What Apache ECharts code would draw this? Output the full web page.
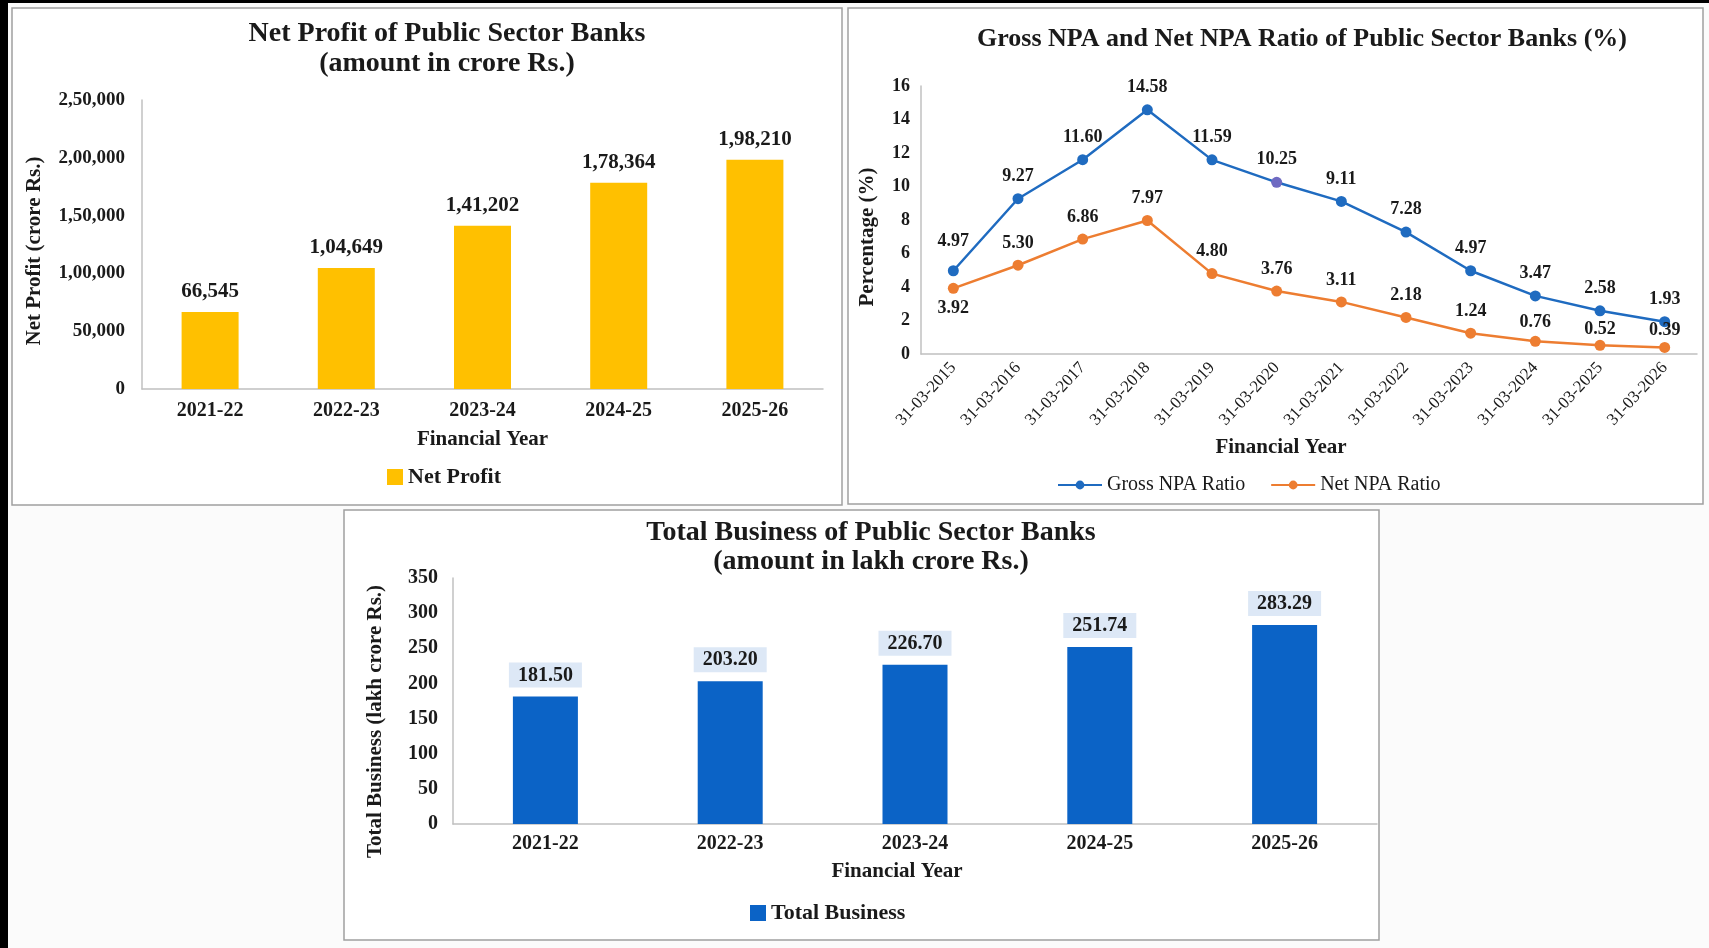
<!DOCTYPE html>
<html>
<head>
<meta charset="utf-8">
<script src="https://cdn.jsdelivr.net/npm/echarts@6/dist/echarts.min.js"></script>
<style>
html,body{margin:0;padding:0;background:#fbfbfb;}
#c{width:1709px;height:948px;}
</style>
</head>
<body>
<div id="c"></div>
<script>
// ---- data ----
const profitYears = ['2021-22','2022-23','2023-24','2024-25','2025-26'];
const netProfit = [66545, 104649, 141202, 178364, 198210];

const npaDates = ['31-03-2015','31-03-2016','31-03-2017','31-03-2018','31-03-2019','31-03-2020','31-03-2021','31-03-2022','31-03-2023','31-03-2024','31-03-2025','31-03-2026'];
const grossNPA = [4.97, 9.27, 11.60, 14.58, 11.59, 10.25, 9.11, 7.28, 4.97, 3.47, 2.58, 1.93];
const netNPA = [3.92, 5.30, 6.86, 7.97, 4.80, 3.76, 3.11, 2.18, 1.24, 0.76, 0.52, 0.39];

const businessYears = ['2021-22','2022-23','2023-24','2024-25','2025-26'];
const totalBusiness = [181.50, 203.20, 226.70, 251.74, 283.29];

// ---- helpers ----
function inr(n){
  const s = String(Math.round(n));
  if (s.length <= 3) return s;
  const last3 = s.slice(-3);
  let rest = s.slice(0, -3);
  const parts = [];
  while (rest.length > 2){ parts.unshift(rest.slice(-2)); rest = rest.slice(0,-2); }
  if (rest.length) parts.unshift(rest);
  return parts.join(',') + ',' + last3;
}
const F = 'Liberation Serif';
const TXT = '#1a1a1a';
const AX = {lineStyle:{color:'#c0c0c0', width:1.5}};
// label distances for the NPA lines (layout only)
const grossDist = [15, 8, 8, 8, 8, 8, 8, 8, 8, 8, 8, 8];
const netDist = [5.5, 7.5, 7.5, 7.5, 7.5, 7.5, 7.5, 7.5, 7.5, 4.5, 1.5, 2.5];

const chart = echarts.init(document.getElementById('c'));
const option = {
  backgroundColor:'#fbfbfb',
  animation:false,
  textStyle:{fontFamily:F},
  graphic:[
    {type:'rect', shape:{x:0,y:0,width:8,height:948}, style:{fill:'#000'}, z:-1},
    {type:'rect', shape:{x:0,y:0,width:1709,height:3}, style:{fill:'#000'}, z:-1},
    {type:'rect', shape:{x:12,y:8,width:830,height:497}, style:{fill:'#fff', stroke:'#a0a0a0', lineWidth:1.5}, z:-1},
    {type:'rect', shape:{x:848,y:8,width:855,height:496}, style:{fill:'#fff', stroke:'#a0a0a0', lineWidth:1.5}, z:-1},
    {type:'rect', shape:{x:344,y:510,width:1035,height:430}, style:{fill:'#fff', stroke:'#a0a0a0', lineWidth:1.5}, z:-1}
  ],
  title:[
    {text:'Net Profit of Public Sector Banks\n(amount in crore Rs.)', left:442, top:14, textAlign:'center',
     textStyle:{fontFamily:F, fontSize:28, fontWeight:'bold', color:TXT, lineHeight:30}},
    {text:'Gross NPA and Net NPA Ratio of Public Sector Banks (%)', left:1297, top:21, textAlign:'center',
     textStyle:{fontFamily:F, fontSize:26, fontWeight:'bold', color:TXT}},
    {text:'Total Business of Public Sector Banks\n(amount in lakh crore Rs.)', left:866, top:513, textAlign:'center',
     textStyle:{fontFamily:F, fontSize:28, fontWeight:'bold', color:TXT, lineHeight:29}}
  ],
  legend:[
    {data:['Net Profit'], left:382, top:461, itemWidth:16, itemHeight:16, icon:'rect',
     textStyle:{fontFamily:F, fontSize:22, fontWeight:'bold', color:TXT}},
    {data:['Gross NPA Ratio','Net NPA Ratio'], left:1052, top:470, itemWidth:44, itemHeight:11, itemGap:25,
     textStyle:{fontFamily:F, fontSize:20, color:TXT}},
    {data:['Total Business'], left:745, top:897, itemWidth:16, itemHeight:16, icon:'rect',
     textStyle:{fontFamily:F, fontSize:22, fontWeight:'bold', color:TXT}}
  ],
  grid:[
    {left:142, top:100, width:681, height:289},
    {left:921, top:86, width:776, height:268},
    {left:453, top:578, width:924, height:246}
  ],
  xAxis:[
    {gridIndex:0, type:'category', data:profitYears, axisLine:AX, axisTick:{show:false},
     axisLabel:{fontFamily:F, fontSize:20, fontWeight:'bold', color:TXT, margin:12},
     name:'Financial Year', nameLocation:'middle', nameGap:40,
     nameTextStyle:{fontFamily:F, fontSize:21, fontWeight:'bold', color:TXT}},
    {gridIndex:1, type:'category', data:npaDates, boundaryGap:true, axisLine:AX, axisTick:{show:false},
     axisLabel:{fontFamily:F, fontSize:17, color:TXT, rotate:47, margin:11, interval:0},
     name:'Financial Year', nameLocation:'middle', nameGap:83,
     nameTextStyle:{fontFamily:F, fontSize:21, fontWeight:'bold', color:TXT, padding:[0,56,0,0]}},
    {gridIndex:2, type:'category', data:businessYears, axisLine:AX, axisTick:{show:false},
     axisLabel:{fontFamily:F, fontSize:20, fontWeight:'bold', color:TXT, margin:10},
     name:'Financial Year', nameLocation:'middle', nameGap:37,
     nameTextStyle:{fontFamily:F, fontSize:21, fontWeight:'bold', color:TXT, padding:[0,36,0,0]}}
  ],
  yAxis:[
    {gridIndex:0, type:'value', min:0, max:250000, interval:50000, splitLine:{show:false},
     axisLine:{show:true, lineStyle:{color:'#c0c0c0', width:1.5}}, axisTick:{show:false},
     axisLabel:{fontFamily:F, fontSize:19, fontWeight:'bold', color:TXT, margin:17, formatter:v=>inr(v)},
     name:'Net Profit (crore Rs.)', nameLocation:'middle', nameGap:97,
     nameTextStyle:{fontFamily:F, fontSize:21, fontWeight:'bold', color:TXT, padding:[0,13,0,0]}},
    {gridIndex:1, type:'value', min:0, max:16, interval:2, splitLine:{show:false},
     axisLine:{show:true, lineStyle:{color:'#c0c0c0', width:1.5}}, axisTick:{show:false},
     axisLabel:{fontFamily:F, fontSize:18, fontWeight:'bold', color:TXT, margin:11},
     name:'Percentage (%)', nameLocation:'middle', nameGap:43,
     nameTextStyle:{fontFamily:F, fontSize:21, fontWeight:'bold', color:TXT, padding:[0,34,0,0]}},
    {gridIndex:2, type:'value', min:0, max:350, interval:50, splitLine:{show:false},
     axisLine:{show:true, lineStyle:{color:'#c0c0c0', width:1.5}}, axisTick:{show:false},
     axisLabel:{fontFamily:F, fontSize:20, fontWeight:'bold', color:TXT, margin:15},
     name:'Total Business (lakh crore Rs.)', nameLocation:'middle', nameGap:67,
     nameTextStyle:{fontFamily:F, fontSize:21, fontWeight:'bold', color:TXT, padding:[0,41,0,0]}}
  ],
  series:[
    {name:'Net Profit', type:'bar', xAxisIndex:0, yAxisIndex:0, data:netProfit, barWidth:57,
     itemStyle:{color:'#FFC000'},
     label:{show:true, position:'top', distance:10, fontFamily:F, fontSize:21, fontWeight:'bold', color:TXT,
            formatter:p=>inr(p.value)}},
    {name:'Gross NPA Ratio', type:'line', xAxisIndex:1, yAxisIndex:1,
     data:grossNPA.map((v,i)=> {
       const d = {value:v, label:{distance:grossDist[i]}};
       if (i===5) d.itemStyle = {color:'#6f6ac2'};
       return d;
     }),
     symbol:'circle', symbolSize:11, lineStyle:{color:'#1f6bc0', width:2.5},
     itemStyle:{color:'#1f6bc0'},
     label:{show:true, position:'top', fontFamily:F, fontSize:18, fontWeight:'bold', color:TXT,
            formatter:p=>p.value.toFixed(2)}},
    {name:'Net NPA Ratio', type:'line', xAxisIndex:1, yAxisIndex:1,
     data:netNPA.map((v,i)=> ({value:v, label:{position: i===0 ? 'bottom' : 'top', distance:netDist[i]}})),
     symbol:'circle', symbolSize:11, lineStyle:{color:'#ed7d31', width:2.5},
     itemStyle:{color:'#ed7d31'},
     label:{show:true, position:'top', fontFamily:F, fontSize:18, fontWeight:'bold', color:TXT,
            formatter:p=>p.value.toFixed(2)}},
    {name:'Total Business', type:'bar', xAxisIndex:2, yAxisIndex:2, data:totalBusiness, barWidth:65,
     itemStyle:{color:'#0b63c6'},
     label:{show:true, position:'top', distance:9, fontFamily:F, fontSize:20, fontWeight:'bold', color:TXT,
            backgroundColor:'#dde8f6', padding:[3,9,2,9], formatter:p=>p.value.toFixed(2)}}
  ]
};
chart.setOption(option);
</script>
</body>
</html>
